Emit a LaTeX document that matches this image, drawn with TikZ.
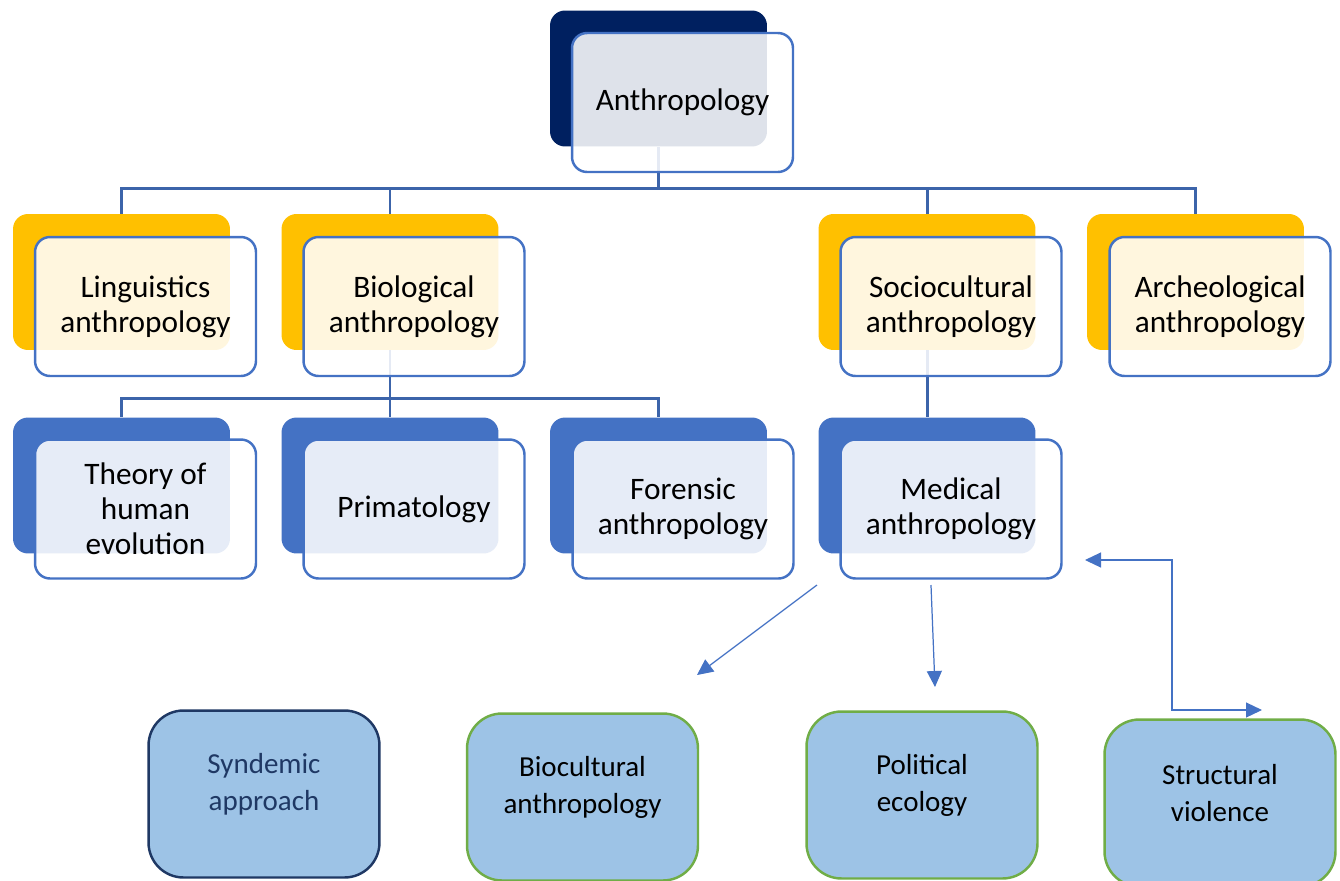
\documentclass[tikz,border=0pt]{standalone}
\usepackage{fontspec}
\setmainfont{Carlito}
\usetikzlibrary{arrows.meta,calc}

\definecolor{navy}{HTML}{002060}
\definecolor{gold}{HTML}{FFC000}
\definecolor{midblue}{HTML}{4472C4}
\definecolor{linkblue}{HTML}{3C64AA}
\definecolor{skyfill}{HTML}{9DC3E6}
\definecolor{darkrim}{HTML}{1F3864}
\definecolor{greenrim}{HTML}{70AD47}

\tikzset{
  backbox/.style={fill=#1, draw=none, rounded corners=0.3cm, inner sep=0pt,
    minimum width=4.34cm, minimum height=2.72cm},
  frontbox/.style={draw=midblue, line width=1.4pt, fill=white, fill opacity=0.87,
    text opacity=1, rounded corners=0.3cm, minimum width=4.42cm, minimum height=2.78cm,
    align=center, font=\fontsize{17.8}{20}\selectfont},
  leafbox/.style={draw=#1, line width=1.4pt, fill=skyfill, rounded corners=0.7cm,
    minimum width=4.62cm, minimum height=3.34cm},
  leaftext/.style={align=center, yshift=0.2cm, font=\fontsize{16.5}{21}\selectfont},
  orgline/.style={draw=linkblue, line width=1.7pt},
  thinarrow/.style={draw=midblue, line width=0.7pt, -{Triangle[length=0.32cm, width=0.3cm]}},
}

\begin{document}
\begin{tikzpicture}[x=0.02cm, y=-0.02cm]
  \useasboundingbox (0,0) rectangle (1340,880);
  \clip (0,0) rectangle (1340,880);

  % coloured backs
  \node[backbox=navy] (anth-b) at (658.5,78.5) {};
  \node[backbox=gold] (lin-b) at (121.5,282) {};
  \node[backbox=gold] (bio-b) at (390,282) {};
  \node[backbox=gold] (soc-b) at (927,282) {};
  \node[backbox=gold] (arc-b) at (1195.5,282) {};
  \node[backbox=midblue] (the-b) at (121.5,485.5) {};
  \node[backbox=midblue] (pri-b) at (390,485.5) {};
  \node[backbox=midblue] (for-b) at (658.5,485.5) {};
  \node[backbox=midblue] (med-b) at (927,485.5) {};

  % tree lines
  \coordinate (hub1) at ($(anth-b.south)+(0,42)$);
  \coordinate (hub2) at ($(bio-b.south)+(0,48)$);
  \draw[orgline] (anth-b.south) -- (hub1);
  \foreach \n in {lin,bio,soc,arc}
    \draw[orgline] (hub1) -| (\n-b.north);
  \draw[orgline] (bio-b.south) -- (hub2);
  \foreach \n in {the,pri,for}
    \draw[orgline] (hub2) -| (\n-b.north);
  \draw[orgline] (soc-b.south) -- (med-b.north);

  % front boxes
  \node[frontbox] (anth) at (682.5,102.5) {Anthropology};
  \node[frontbox] (lin) at (145.5,306.5) {Linguistics\\anthropology};
  \node[frontbox] (bio) at (414,306.5) {Biological\\anthropology};
  \node[frontbox] (soc) at (951,306.5) {Sociocultural\\anthropology};
  \node[frontbox] (arc) at (1220,306.5) {Archeological\\anthropology};
  \node[frontbox] (the) at (145.5,509) {Theory of\\human\\evolution};
  \node[frontbox] (pri) at (414,509) {Primatology};
  \node[frontbox] (for) at (683,509) {Forensic\\anthropology};
  \node[frontbox] (med) at (951,509) {Medical\\anthropology};

  % bottom row
  \node[leafbox=darkrim, label={[leaftext, text=darkrim]center:Syndemic\\approach}] (syn) at (264,794) {};
  \node[leafbox=greenrim, label={[leaftext]center:Biocultural\\anthropology}] (bcu) at (582.5,797) {};
  \node[leafbox=greenrim, label={[leaftext]center:Political\\ecology}] (pol) at (922,795) {};
  \node[leafbox=greenrim, label={[leaftext]center:Structural\\violence}] (str) at (1220,803) {};

  % free arrows
  \coordinate (a1s) at (817,585);
  \coordinate (a1e) at (697,675);
  \coordinate (a2s) at (931,585);
  \coordinate (a2e) at (935,687);
  \coordinate (a3s) at (1085,560);
  \coordinate (a3k) at (1172,710);
  \coordinate (a3e) at (1262,710);
  \draw[thinarrow] (a1s) -- (a1e);
  \draw[thinarrow] (a2s) -- (a2e);
  \draw[thinarrow, {Triangle[length=0.32cm, width=0.3cm]}-{Triangle[length=0.32cm, width=0.3cm]}] (a3s) -| (a3k) -- (a3e);
\end{tikzpicture}
\end{document}
